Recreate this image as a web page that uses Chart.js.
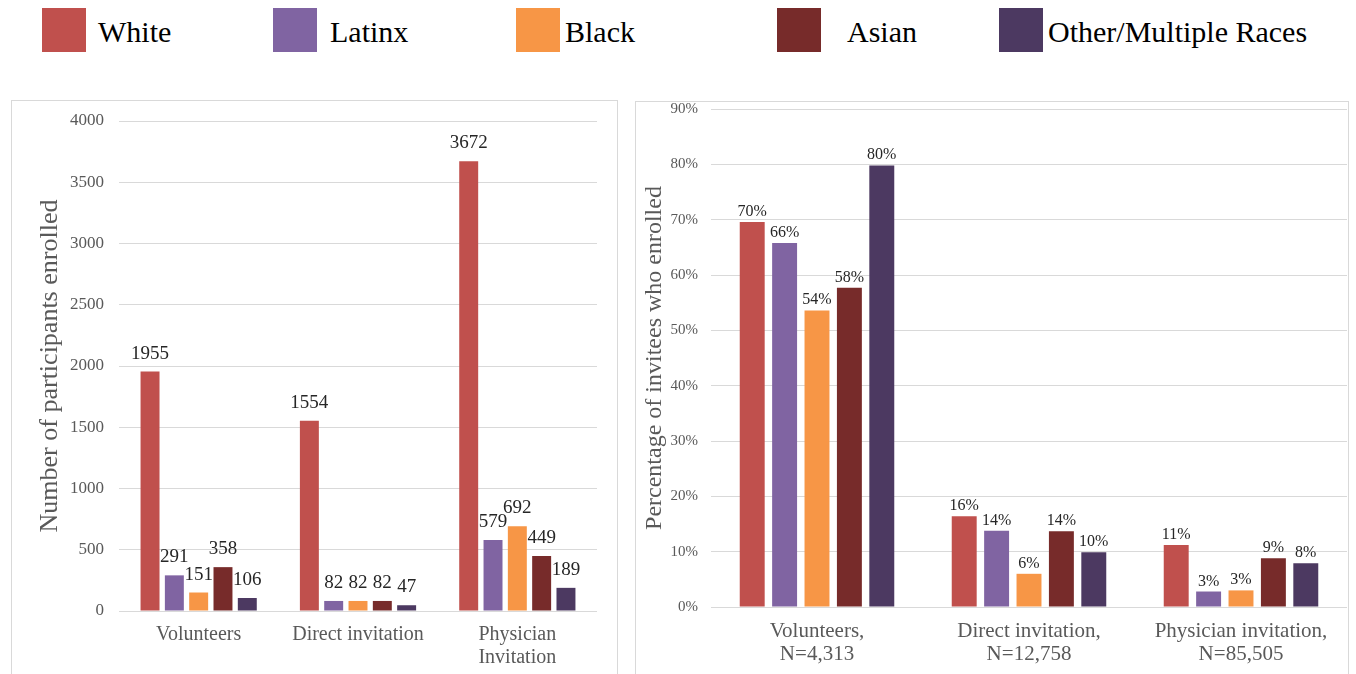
<!DOCTYPE html>
<html>
<head>
<meta charset="utf-8">
<script src="https://cdn.jsdelivr.net/npm/chart.js@4/dist/chart.umd.min.js"></script>
<style>
  html, body { margin: 0; padding: 0; background: #fff; }
  body { width: 1356px; height: 674px; position: relative; overflow: hidden; font-family: "Liberation Serif", "Times New Roman", serif; }
  .panel { position: absolute; border: 1px solid #d9d9d9; box-sizing: border-box; }
  .lg-box { position: absolute; width: 44px; height: 44px; }
  .lg-text { position: absolute; font-size: 30px; line-height: 44px; color: #000; white-space: nowrap; }
  canvas { position: absolute; }
</style>
</head>
<body>
<div class="panel" style="left:11px; top:100px; width:607px; height:600px;"></div>
<div class="panel" style="left:635px; top:101px; width:714px; height:600px;"></div>
<div id="legend"></div>
<canvas id="countChart" width="606" height="594" style="left:12px; top:80px;"></canvas>
<canvas id="pctChart" width="712" height="593" style="left:636px; top:81px;"></canvas>
<script>
// ---- data ----
const races = ['White', 'Latinx', 'Black', 'Asian', 'Other/Multiple Races'];
const raceColors = ['#C0504D', '#8064A2', '#F79646', '#772B2A', '#4C3961'];

const countCategories = ['Volunteers', 'Direct invitation', ['Physician', 'Invitation']];
const whiteCounts  = [1955, 1554, 3672];
const latinxCounts = [291, 82, 579];
const blackCounts  = [151, 82, 692];
const asianCounts  = [358, 82, 449];
const otherCounts  = [106, 47, 189];
const countTickStep = 500;
const countMax = 4000;

const pctCategories = [['Volunteers,', 'N=4,313'], ['Direct invitation,', 'N=12,758'], ['Physician invitation,', 'N=85,505']];
const whitePct  = [69.6, 16.4, 11.2];
const latinxPct = [65.8, 13.8, 2.8];
const blackPct  = [53.6, 6.0, 3.0];
const asianPct  = [57.7, 13.7, 8.8];
const otherPct  = [79.8, 9.9, 7.9];
const pctTickStep = 10;
const pctMax = 90;

// legend layout (HTML)
const legendX = [42, 273, 516, 777, 999];
const legendTextX = [98, 330, 565, 847, 1048];
const legendEl = document.getElementById('legend');
races.forEach((r, i) => {
  const b = document.createElement('div');
  b.className = 'lg-box';
  b.style.left = legendX[i] + 'px'; b.style.top = '8px';
  b.style.background = raceColors[i];
  legendEl.appendChild(b);
  const t = document.createElement('div');
  t.className = 'lg-text';
  t.style.left = legendTextX[i] + 'px'; t.style.top = '10px';
  t.textContent = r;
  legendEl.appendChild(t);
});

const SERIF = '"Liberation Serif", "Times New Roman", serif';

const valueLabels = {
  id: 'valueLabels',
  afterDatasetsDraw(chart, args, opts) {
    const ctx = chart.ctx;
    ctx.save();
    ctx.font = opts.size + 'px ' + SERIF;
    ctx.fillStyle = opts.color;
    ctx.textAlign = 'center';
    ctx.textBaseline = 'alphabetic';
    chart.data.datasets.forEach((ds, i) => {
      const meta = chart.getDatasetMeta(i);
      meta.data.forEach((bar, j) => {
        ctx.fillText(opts.format(ds.data[j]), bar.x, bar.y - opts.gap);
      });
    });
    ctx.restore();
  }
};

function makeDatasets(seriesList, cp, bp) {
  return seriesList.map((vals, i) => ({
    label: races[i],
    data: vals,
    backgroundColor: raceColors[i],
    borderWidth: 0,
    categoryPercentage: cp,
    barPercentage: bp
  }));
}

Chart.defaults.font.family = SERIF;
Chart.defaults.color = '#595959';

new Chart(document.getElementById('countChart'), {
  type: 'bar',
  data: {
    labels: countCategories,
    datasets: makeDatasets([whiteCounts, latinxCounts, blackCounts, asianCounts, otherCounts], 0.763, 0.78)
  },
  options: {
    responsive: false,
    animation: false,
    devicePixelRatio: 1,
    layout: { padding: { top: 41, right: 21, left: 0, bottom: 0 } },
    plugins: {
      legend: { display: false },
      tooltip: { enabled: false },
      valueLabels: { size: 19, color: '#262626', gap: 13, format: v => String(v) }
    },
    scales: {
      x: {
        grid: { display: false, drawTicks: false },
        border: { display: false },
        ticks: { font: { size: 20, lineHeight: 1.15 }, color: '#595959', padding: 12, maxRotation: 0, autoSkip: false },
        afterFit: s => { s.height = 63; }
      },
      y: {
        min: 0, max: countMax,
        ticks: { stepSize: countTickStep, font: { size: 17 }, color: '#595959', padding: 15, callback: v => String(v) },
        grid: { color: '#d9d9d9', lineWidth: 1, drawTicks: false },
        border: { display: false },
        title: { display: true, text: 'Number of participants enrolled', font: { size: 26, lineHeight: 1.2 }, color: '#595959', padding: { top: 23, bottom: 0 } },
        afterFit: s => { s.width = 107; }
      }
    }
  },
  plugins: [valueLabels]
});

new Chart(document.getElementById('pctChart'), {
  type: 'bar',
  data: {
    labels: pctCategories,
    datasets: makeDatasets([whitePct, latinxPct, blackPct, asianPct, otherPct], 0.764, 0.77)
  },
  options: {
    responsive: false,
    animation: false,
    devicePixelRatio: 1,
    layout: { padding: { top: 28, right: 1, left: 0, bottom: 0 } },
    plugins: {
      legend: { display: false },
      tooltip: { enabled: false },
      valueLabels: { size: 16, color: '#262626', gap: 6, format: v => Math.round(v) + '%' }
    },
    scales: {
      x: {
        grid: { display: false, drawTicks: false },
        border: { display: false },
        ticks: { font: { size: 21, lineHeight: 1.1 }, color: '#595959', padding: 13, maxRotation: 0, autoSkip: false },
        afterFit: s => { s.height = 67; }
      },
      y: {
        min: 0, max: pctMax,
        ticks: { stepSize: pctTickStep, font: { size: 15 }, color: '#595959', padding: 13, callback: v => v + '%' },
        grid: { color: '#d9d9d9', lineWidth: 1, drawTicks: false },
        border: { display: false },
        title: { display: true, text: 'Percentage of invitees who enrolled', font: { size: 24, lineHeight: 1.2 }, color: '#595959', padding: { top: 4, bottom: 0 } },
        afterFit: s => { s.width = 75; }
      }
    }
  },
  plugins: [valueLabels]
});
</script>
</body>
</html>
